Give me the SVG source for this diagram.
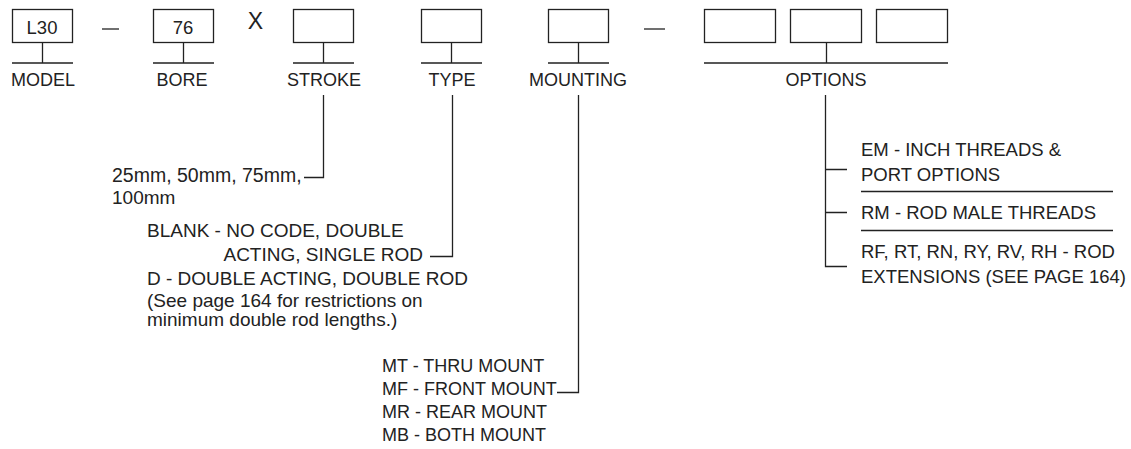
<svg xmlns="http://www.w3.org/2000/svg" width="1131" height="449" viewBox="0 0 1131 449">
<style>
.box{fill:#fff;stroke:#222;stroke-width:1.3}
.ln{fill:none;stroke:#222;stroke-width:1.3}
text{font-family:"Liberation Sans",Arial,sans-serif;font-size:18px;fill:#222}
.lbl{text-anchor:middle}
.d19{font-size:19px}
.d185{font-size:18.5px}
</style>
<rect width="1131" height="449" fill="#fff"/>
<g id="model">
<rect class="box" x="12.5" y="9.5" width="60" height="33"/>
<text class="lbl" x="42" y="33.5" style="font-size:18.5px">L30</text>
<path class="ln" d="M42.5 42.5V63M12 63H73"/>
<text class="lbl" x="43" y="86">MODEL</text>
</g>
<g id="dash1"><path class="ln" d="M102 29H119" stroke-width="1.6"/></g>
<g id="bore">
<rect class="box" x="153.5" y="9.5" width="60" height="33"/>
<text class="lbl" x="183" y="33.5" style="font-size:18.5px">76</text>
<path class="ln" d="M183.5 42.5V63M153 63H214"/>
<text class="lbl" x="182" y="86">BORE</text>
</g>
<text id="times" x="255.5" y="28.5" style="font-size:23px" text-anchor="middle">X</text>
<g id="stroke">
<rect class="box" x="293.5" y="9.5" width="60" height="33"/>
<path class="ln" d="M323.5 42.5V63M293 63H354"/>
<text class="lbl" x="324" y="86">STROKE</text>
</g>
<g id="type">
<rect class="box" x="421.5" y="9.5" width="60" height="33"/>
<path class="ln" d="M451.5 42.5V63M421 63H482"/>
<text class="lbl" x="452" y="86">TYPE</text>
</g>
<g id="mounting">
<rect class="box" x="548.5" y="9.5" width="60" height="33"/>
<path class="ln" d="M578.5 42.5V63M548 63H609"/>
<text class="lbl" x="578" y="86">MOUNTING</text>
</g>
<g id="dash2"><path class="ln" d="M644 29H665" stroke-width="1.6"/></g>
<g id="options">
<rect class="box" x="704.5" y="9.5" width="71" height="33"/>
<rect class="box" x="790.5" y="9.5" width="71" height="33"/>
<rect class="box" x="876.5" y="9.5" width="71" height="33"/>
<path class="ln" d="M826.5 42.5V63M704 63H948"/>
<text class="lbl" x="826" y="86">OPTIONS</text>
</g>
<g id="connectors">
<path class="ln" d="M323.5 95V177.5H304"/>
<path class="ln" d="M452.5 95V256.5H430"/>
<path class="ln" d="M578.5 95V392.5H557"/>
<path class="ln" d="M825.5 95V266.5H847M825.5 169.5H847M825.5 212.5H847"/>
</g>
<g id="stroke-desc">
<text x="112" y="181.5" style="font-size:19.5px">25mm, 50mm, 75mm,</text>
<text x="112" y="203.5" style="font-size:19px">100mm</text>
</g>
<g id="type-desc">
<text class="d19" x="147" y="237">BLANK - NO CODE, DOUBLE</text>
<text class="d19" x="423" y="261" text-anchor="end">ACTING, SINGLE ROD</text>
<text class="d19" x="147" y="285">D - DOUBLE ACTING, DOUBLE ROD</text>
<text class="d19" x="147" y="307">(See page 164 for restrictions on</text>
<text class="d19" x="147" y="326">minimum double rod lengths.)</text>
</g>
<g id="mounting-desc">
<text x="382" y="372">MT - THRU MOUNT</text>
<text x="382" y="395">MF - FRONT MOUNT</text>
<text x="382" y="418">MR - REAR MOUNT</text>
<text x="382" y="441">MB - BOTH MOUNT</text>
</g>
<g id="options-desc">
<text class="d185" x="861" y="156">EM - INCH THREADS &amp;</text>
<text class="d185" x="861" y="181">PORT OPTIONS</text>
<path class="ln" d="M861 191.5H1113"/>
<text class="d185" x="861" y="219">RM - ROD MALE THREADS</text>
<path class="ln" d="M861 230.5H1113"/>
<text class="d185" x="861" y="258">RF, RT, RN, RY, RV, RH - ROD</text>
<text class="d185" x="861" y="283">EXTENSIONS (SEE PAGE 164)</text>
</g>
</svg>
